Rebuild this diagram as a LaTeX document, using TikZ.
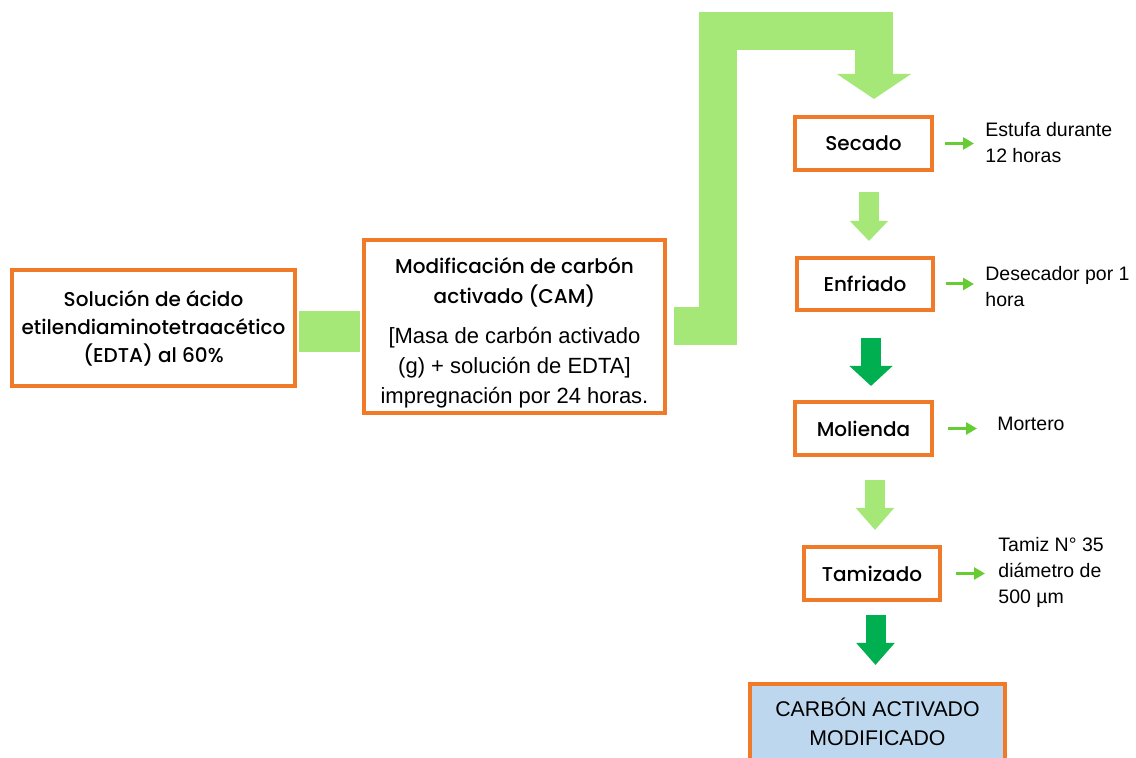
\documentclass[tikz,border=0pt]{standalone}
\usepackage{fontspec}
\setmainfont{Liberation Sans}
\newfontfamily\headfont{Poppins Medium}
\newcommand{\camfont}{\rmfamily\fontsize{11}{14.25}\selectfont}
\usetikzlibrary{arrows.meta,positioning}
\definecolor{boxorange}{RGB}{240,122,40}
\definecolor{lightgreen}{RGB}{166,232,120}
\definecolor{darkgreen}{RGB}{0,176,80}
\definecolor{sidegreen}{RGB}{102,204,51}
\definecolor{lightblue}{RGB}{189,215,238}

\begin{document}
\begin{tikzpicture}[x=0.5pt, y=-0.5pt,
    stepbox/.style={draw=boxorange, line width=2pt, fill=white, align=center, inner sep=0pt,
        font=\headfont\fontsize{10}{14}\selectfont},
    sidetext/.style={anchor=west, align=left, inner sep=0pt, font=\fontsize{9.75}{13}\selectfont},
    sidearrow/.style={sidegreen, line width=1.5pt, shorten <=5.5pt, shorten >=5.5pt,
        -{Triangle[length=5.5pt,width=6pt]}},
    flowarrow/.style={line width=10pt, -{Triangle[width=18.5pt,length=10pt]}}
]
\useasboundingbox (0,0) rectangle (1136,758);

\node[stepbox, minimum width=141.5pt, minimum height=58pt] (sol) at (153.5,328)
    {Solución de ácido\\etilendiaminotetraacético\\(EDTA) al 60\%};
\node[stepbox, minimum width=150.5pt, minimum height=86.5pt] (cam) at (514.5,326.5) {};
\node[align=center, inner sep=0pt, font=\headfont\fontsize{10}{15}\selectfont]
    (camtext) at ([yshift=-3.25pt]cam.center)
    {Modificación de carbón\\activado (CAM)\\[5pt]
     \camfont {[}Masa de carbón activado\\\camfont (g) + solución de EDTA]\\\camfont impregnación por 24 horas.};

\node[stepbox, minimum width=68.5pt, minimum height=26.5pt] (secado) at (863.5,143.5) {Secado};
\node[stepbox, minimum width=68pt, minimum height=26pt] (enfriado) at (865,284) {Enfriado};
\node[stepbox, minimum width=68.5pt, minimum height=26.5pt] (molienda) at (863.5,428.5) {Molienda};
\node[stepbox, minimum width=68pt, minimum height=26.5pt] (tamizado) at (872,573.5) {Tamizado};
\node[stepbox, fill=lightblue, minimum width=127.5pt, minimum height=38pt,
    font=\rmfamily\fontsize{10.65}{14.5}\selectfont] (final) at (877.5,722)
    {CARBÓN ACTIVADO\\MODIFICADO};

\node[sidetext] (estufa) at (985,143) {Estufa durante\\12 horas};
\node[sidetext] (desecador) at (985,287) {Desecador por 1\\hora};
\node[sidetext] (mortero) at (997,424) {Mortero};
\node[sidetext] (tamiz) at (998,572) {Tamiz N° 35\\diámetro de\\500 µm};

% green bars
\draw[lightgreen, line width=20.5pt, shorten <=1pt, shorten >=1pt]
    ([yshift=-1.75pt]sol.east) -- ([yshift=-1.75pt]sol.east -| cam.west);
\draw[lightgreen, line width=19pt, shorten <=3.5pt, shorten >=8pt,
    -{Triangle[width=36.5pt,length=12.5pt]}]
    (cam.east) -- ++(51,0) -- ++(0,-295.5) -| ([xshift=5.25pt]secado.north);

% steps
\draw[flowarrow, lightgreen, shorten <=10pt, shorten >=7.5pt]
    ([xshift=2.75pt]secado.south) -- ([xshift=2.75pt]secado.south |- enfriado.north);
\draw[flowarrow, darkgreen, shorten <=13pt, shorten >=7pt, -{Triangle[width=21pt,length=10pt]}]
    ([xshift=3pt]enfriado.south) -- ([xshift=3pt]enfriado.south |- molienda.north);
\draw[flowarrow, lightgreen, shorten <=11.5pt, shorten >=7.5pt, -{Triangle[width=18.5pt,length=11pt]}]
    ([xshift=5.75pt]molienda.south) -- ([xshift=5.75pt]molienda.south |- tamizado.north);
\draw[flowarrow, darkgreen, shorten <=6.5pt, shorten >=8.5pt, -{Triangle[width=18.5pt,length=11pt]}]
    ([xshift=1.75pt]tamizado.south) -- ([xshift=1.75pt]tamizado.south |- final.north);

% side notes
\draw[sidearrow] (secado.east) -- (secado.east -| estufa.west);
\draw[sidearrow] (enfriado.east) -- (enfriado.east -| desecador.west);
\draw[sidearrow, shorten <=7pt, shorten >=10pt] (molienda.east) -- (molienda.east -| mortero.west);
\draw[sidearrow, shorten <=7pt, shorten >=6.5pt] (tamizado.east) -- (tamizado.east -| tamiz.west);
\end{tikzpicture}
\end{document}
